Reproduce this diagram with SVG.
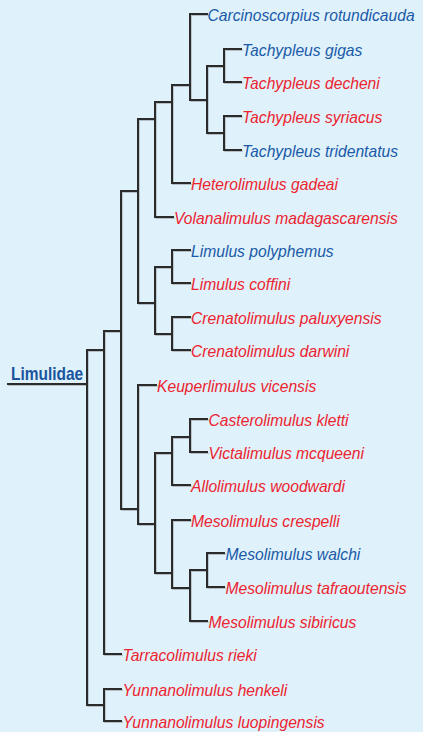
<svg xmlns="http://www.w3.org/2000/svg" xmlns:xlink="http://www.w3.org/1999/xlink" width="423" height="732" viewBox="0 0 423 732">
<style>
.bg{fill:#dff1fb}
.br{fill:none;stroke:#2b2b2b;stroke-width:2;stroke-linecap:square}
.sh{fill:none;stroke:#9fa9ae;stroke-width:1.6;stroke-linecap:square;opacity:0.7}
text{font-family:"Liberation Sans",Arial,sans-serif;font-style:italic;font-size:17.4px}
.b{fill:#1a5aa8}
.r{fill:#ec2430}
.root{font-style:normal;font-weight:bold;font-size:18px;fill:#1a55a0}
</style>
<rect class="bg" x="0" y="0" width="423" height="732"/>
<defs>
<path id="tree" d="
M190,14H207 M224,49H241 M224,82H241 M224,116H241 M224,150H241
M172,183H190 M155,217H173 M172,250H190 M172,283H190 M172,317H190 M172,350H190
M138,385H156 M190,419H207 M190,452H207 M172,485H190 M172,520H190
M207,553H224 M207,587H224 M190,621H207 M104,654H121 M104,689H121 M104,721H121
M224,49V82 M207,66H224
M224,116V150 M207,133H224
M207,66V133 M190,100H207
M190,14V100 M172,85H190
M172,85V183 M155,102H172
M155,102V217 M138,119H155
M172,250V283 M155,267H172
M172,317V350 M155,334H172
M155,267V334 M138,303H155
M138,119V303 M121,191H138
M190,419V452 M172,437H190
M172,437V485 M155,453H172
M207,553V587 M190,570H207
M190,570V621 M172,588H190
M172,520V588 M155,573H172
M155,453V573 M138,524H155
M138,385V524 M121,509H138
M121,191V509 M104,331H121
M104,331V654 M87,350H104
M104,689V721 M87,705H104
M87,350V705 M8,384H87"/>
</defs>
<g id="connectors">
<use xlink:href="#tree" href="#tree" class="sh" transform="translate(1,1.2)"/>
<use xlink:href="#tree" href="#tree" class="br"/>
</g>
<g id="Limulidae"><text class="root" transform="translate(11,380) scale(0.86,1)">Limulidae</text></g>
<g id="n1"><text class="b" transform="translate(207.5,20.5) scale(0.9,1)">Carcinoscorpius rotundicauda</text></g>
<g id="n2"><text class="b" transform="translate(242,55.5) scale(0.9,1)">Tachypleus gigas</text></g>
<g id="n3"><text class="r" transform="translate(242,88.5) scale(0.9,1)">Tachypleus decheni</text></g>
<g id="n4"><text class="r" transform="translate(242,122.5) scale(0.9,1)">Tachypleus syriacus</text></g>
<g id="n5"><text class="b" transform="translate(242,156.5) scale(0.9,1)">Tachypleus tridentatus</text></g>
<g id="n6"><text class="r" transform="translate(191,189.5) scale(0.9,1)">Heterolimulus gadeai</text></g>
<g id="n7"><text class="r" transform="translate(174,223.5) scale(0.9,1)">Volanalimulus madagascarensis</text></g>
<g id="n8"><text class="b" transform="translate(191,256.5) scale(0.9,1)">Limulus polyphemus</text></g>
<g id="n9"><text class="r" transform="translate(191,289.5) scale(0.9,1)">Limulus coffini</text></g>
<g id="n10"><text class="r" transform="translate(191,323.5) scale(0.9,1)">Crenatolimulus paluxyensis</text></g>
<g id="n11"><text class="r" transform="translate(191,356.5) scale(0.9,1)">Crenatolimulus darwini</text></g>
<g id="n12"><text class="r" transform="translate(157,391.5) scale(0.9,1)">Keuperlimulus vicensis</text></g>
<g id="n13"><text class="r" transform="translate(208.5,425.5) scale(0.9,1)">Casterolimulus kletti</text></g>
<g id="n14"><text class="r" transform="translate(208.5,458.5) scale(0.9,1)">Victalimulus mcqueeni</text></g>
<g id="n15"><text class="r" transform="translate(191,491.5) scale(0.9,1)">Allolimulus woodwardi</text></g>
<g id="n16"><text class="r" transform="translate(191,526.5) scale(0.9,1)">Mesolimulus crespelli</text></g>
<g id="n17"><text class="b" transform="translate(225.5,559.5) scale(0.9,1)">Mesolimulus walchi</text></g>
<g id="n18"><text class="r" transform="translate(225.5,593.5) scale(0.9,1)">Mesolimulus tafraoutensis</text></g>
<g id="n19"><text class="r" transform="translate(208.5,627.5) scale(0.9,1)">Mesolimulus sibiricus</text></g>
<g id="n20"><text class="r" transform="translate(122.5,660.5) scale(0.9,1)">Tarracolimulus rieki</text></g>
<g id="n21"><text class="r" transform="translate(122.5,695.5) scale(0.9,1)">Yunnanolimulus henkeli</text></g>
<g id="n22"><text class="r" transform="translate(122.5,727.5) scale(0.9,1)">Yunnanolimulus luopingensis</text></g>
</svg>
